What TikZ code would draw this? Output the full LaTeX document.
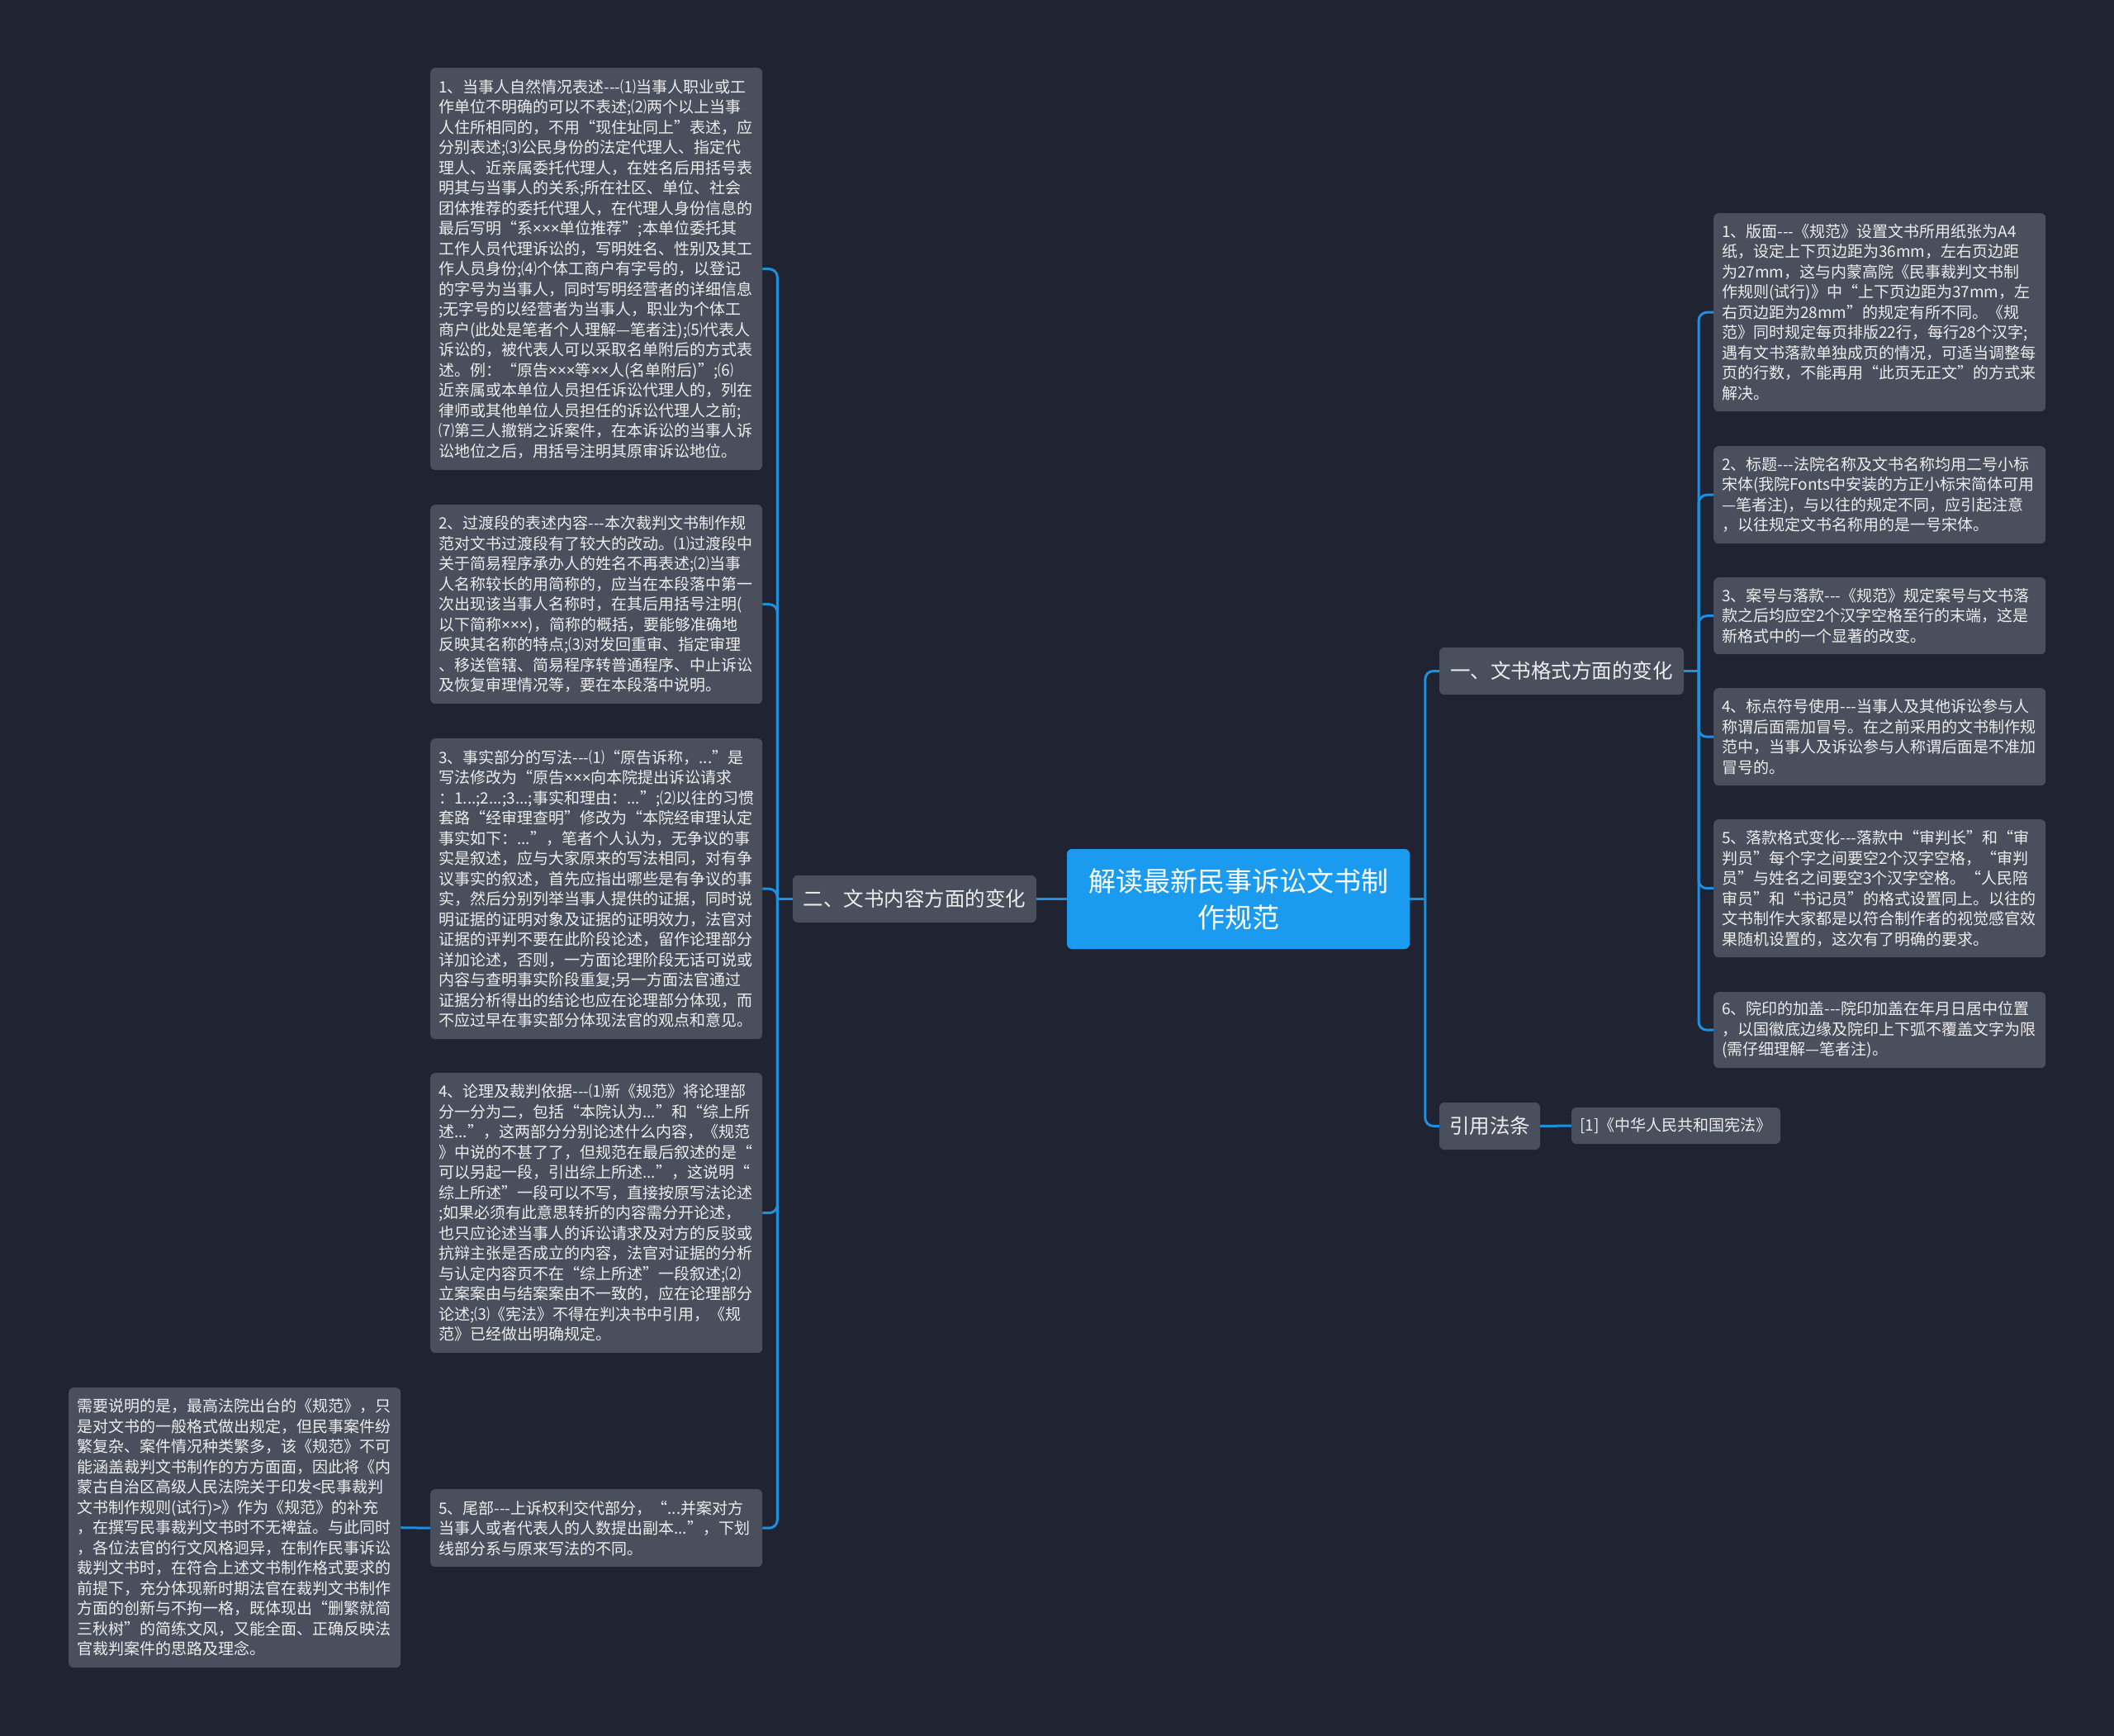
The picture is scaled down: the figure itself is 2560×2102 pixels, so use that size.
\documentclass[tikz,border=0pt]{standalone}
\usepackage{fontspec}
\setmainfont{Noto Sans CJK SC}
\newfontfamily\lat{Noto Sans}
\definecolor{bg}{HTML}{202331}
\definecolor{boxc}{HTML}{4A4F5E}
\definecolor{mainc}{HTML}{1A9BF0}
\definecolor{linec}{HTML}{1F8FE0}
\definecolor{txt}{HTML}{EDEDED}
\newcommand\tdash{-\kern0pt-\kern0pt-}
\newcommand\tm{{\lat ×}}
\begin{document}
\begin{tikzpicture}[x=1pt,y=-1pt,
 leaf/.style={fill=boxc, rounded corners=6pt, text=txt, font=\fontsize{19}{24.5}\selectfont, text width=382pt, align=left, inner xsep=10pt, inner ysep=0pt, anchor=north west},
 branch/.style={fill=boxc, rounded corners=6pt, text=txt, font=\fontsize{24.5}{30}\selectfont, inner sep=0pt},
 conn/.style={draw=linec, line width=3pt, rounded corners=10pt}]
\fill[bg] (0,0) rectangle (2560,2102);

% central
\node[fill=mainc, rounded corners=6pt, text=white, font=\fontsize{33}{44}\selectfont, minimum width=415pt, minimum height=121pt, align=center, inner sep=0pt] (C) at (1499.5,1088.5) {解读最新民事诉讼文书制\\作规范};

% branches
\node[branch, minimum width=295pt, minimum height=57pt] (B2) at (1107.5,1088.5) {二、文书内容方面的变化};
\node[branch, minimum width=296pt, minimum height=57pt] (B1) at (1891,812.5) {一、文书格式方面的变化};
\node[branch, minimum width=122pt, minimum height=57pt] (B3) at (1804,1363.5) {引用法条};
\node[fill=boxc, rounded corners=6pt, text=txt, font=\fontsize{19}{24.5}\selectfont, inner sep=0pt, minimum width=253pt, minimum height=44pt] (LAW) at (2029.5,1363) {[1]《中华人民共和国宪法》};

% left leaves
\node[leaf, minimum height=487pt] (L1) at (521,82) {1、当事人自然情况表述\tdash⑴当事人职业或工\\作单位不明确的可以不表述;⑵两个以上当事\\人住所相同的，不用“现住址同上”表述，应\\分别表述;⑶公民身份的法定代理人、指定代\\理人、近亲属委托代理人，在姓名后用括号表\\明其与当事人的关系;所在社区、单位、社会\\团体推荐的委托代理人，在代理人身份信息的\\最后写明“系\tm\tm\tm 单位推荐”;本单位委托其\\工作人员代理诉讼的，写明姓名、性别及其工\\作人员身份;⑷个体工商户有字号的，以登记\\的字号为当事人，同时写明经营者的详细信息\\;无字号的以经营者为当事人，职业为个体工\\商户(此处是笔者个人理解—笔者注);⑸代表人\\诉讼的，被代表人可以采取名单附后的方式表\\述。例：“原告\tm\tm\tm 等\tm\tm 人(名单附后)”;⑹\\近亲属或本单位人员担任诉讼代理人的，列在\\律师或其他单位人员担任的诉讼代理人之前;\\⑺第三人撤销之诉案件，在本诉讼的当事人诉\\讼地位之后，用括号注明其原审诉讼地位。};

\node[leaf, minimum height=241pt] (L2) at (521,611) {2、过渡段的表述内容\tdash 本次裁判文书制作规\\范对文书过渡段有了较大的改动。⑴过渡段中\\关于简易程序承办人的姓名不再表述;⑵当事\\人名称较长的用简称的，应当在本段落中第一\\次出现该当事人名称时，在其后用括号注明(\\以下简称\tm\tm\tm)，简称的概括，要能够准确地\\反映其名称的特点;⑶对发回重审、指定审理\\、移送管辖、简易程序转普通程序、中止诉讼\\及恢复审理情况等，要在本段落中说明。};

\node[leaf, minimum height=364pt] (L3) at (521,894) {3、事实部分的写法\tdash⑴“原告诉称，...”是\\写法修改为“原告\tm\tm\tm 向本院提出诉讼请求\\：1...;2...;3...;事实和理由：...”;⑵以往的习惯\\套路“经审理查明”修改为“本院经审理认定\\事实如下：...”，笔者个人认为，无争议的事\\实是叙述，应与大家原来的写法相同，对有争\\议事实的叙述，首先应指出哪些是有争议的事\\实，然后分别列举当事人提供的证据，同时说\\明证据的证明对象及证据的证明效力，法官对\\证据的评判不要在此阶段论述，留作论理部分\\详加论述，否则，一方面论理阶段无话可说或\\内容与查明事实阶段重复;另一方面法官通过\\证据分析得出的结论也应在论理部分体现，而\\不应过早在事实部分体现法官的观点和意见。};

\node[leaf, minimum height=339pt] (L4) at (521,1299) {4、论理及裁判依据\tdash⑴新《规范》将论理部\\分一分为二，包括“本院认为...”和“综上所\\述...”，这两部分分别论述什么内容，《规范\\》中说的不甚了了，但规范在最后叙述的是“\\可以另起一段，引出综上所述...”，这说明“\\综上所述”一段可以不写，直接按原写法论述\\;如果必须有此意思转折的内容需分开论述，\\也只应论述当事人的诉讼请求及对方的反驳或\\抗辩主张是否成立的内容，法官对证据的分析\\与认定内容页不在“综上所述”一段叙述;⑵\\立案案由与结案案由不一致的，应在论理部分\\论述;⑶《宪法》不得在判决书中引用，《规\\范》已经做出明确规定。};

\node[leaf, minimum height=94pt] (L5) at (521,1803) {5、尾部\tdash 上诉权利交代部分，“...并案对方\\当事人或者代表人的人数提出副本...”，下划\\线部分系与原来写法的不同。};

\node[leaf, minimum height=339pt] (N) at (83,1680) {需要说明的是，最高法院出台的《规范》，只\\是对文书的一般格式做出规定，但民事案件纷\\繁复杂、案件情况种类繁多，该《规范》不可\\能涵盖裁判文书制作的方方面面，因此将《内\\蒙古自治区高级人民法院关于印发<民事裁判\\文书制作规则(试行)>》作为《规范》的补充\\，在撰写民事裁判文书时不无裨益。与此同时\\，各位法官的行文风格迥异，在制作民事诉讼\\裁判文书时，在符合上述文书制作格式要求的\\前提下，充分体现新时期法官在裁判文书制作\\方面的创新与不拘一格，既体现出“删繁就简\\三秋树”的简练文风，又能全面、正确反映法\\官裁判案件的思路及理念。};

% right leaves
\node[leaf, minimum height=240pt] (R1) at (2075,258) {1、版面\tdash《规范》设置文书所用纸张为A4\\纸，设定上下页边距为36mm，左右页边距\\为27mm，这与内蒙高院《民事裁判文书制\\作规则(试行)》中“上下页边距为37mm，左\\右页边距为28mm”的规定有所不同。《规\\范》同时规定每页排版22行，每行28个汉字;\\遇有文书落款单独成页的情况，可适当调整每\\页的行数，不能再用“此页无正文”的方式来\\解决。};

\node[leaf, minimum height=118pt] (R2) at (2075,540) {2、标题\tdash 法院名称及文书名称均用二号小标\\宋体(我院Fonts中安装的方正小标宋简体可用\\—笔者注)，与以往的规定不同，应引起注意\\，以往规定文书名称用的是一号宋体。};

\node[leaf, minimum height=93pt] (R3) at (2075,699) {3、案号与落款\tdash《规范》规定案号与文书落\\款之后均应空2个汉字空格至行的末端，这是\\新格式中的一个显著的改变。};

\node[leaf, minimum height=118pt] (R4) at (2075,833) {4、标点符号使用\tdash 当事人及其他诉讼参与人\\称谓后面需加冒号。在之前采用的文书制作规\\范中，当事人及诉讼参与人称谓后面是不准加\\冒号的。};

\node[leaf, minimum height=167pt] (R5) at (2075,992) {5、落款格式变化\tdash 落款中“审判长”和“审\\判员”每个字之间要空2个汉字空格，“审判\\员”与姓名之间要空3个汉字空格。“人民陪\\审员”和“书记员”的格式设置同上。以往的\\文书制作大家都是以符合制作者的视觉感官效\\果随机设置的，这次有了明确的要求。};

\node[leaf, minimum height=92pt] (R6) at (2075,1201) {6、院印的加盖\tdash 院印加盖在年月日居中位置\\，以国徽底边缘及院印上下弧不覆盖文字为限\\(需仔细理解—笔者注)。};

% junction points
\coordinate (JL) at ([xshift=18pt]B2.west -| L1.east);
\coordinate (JR) at ([xshift=-17pt]B1.west |- C.east);
\coordinate (JR1) at ([xshift=-18pt]R1.west |- B1.east);

% connectors
\draw[conn] (C.west) -- (B2.east);
\draw[conn] (B2.west) -- (JL);
\foreach \n in {L1,L2,L3,L4,L5}
  \draw[conn] (JL) |- (\n.east);
\draw[conn] (L5.west) -- (N.east);
\draw[conn] (C.east) -- (JR);
\draw[conn] (JR) |- (B1.west);
\draw[conn] (JR) |- (B3.west);
\draw[conn] (B1.east) -- (JR1);
\foreach \n in {R1,R2,R3,R4,R5,R6}
  \draw[conn] (JR1) |- (\n.west);
\draw[conn] (B3.east) -- (LAW.west);
\end{tikzpicture}
\end{document}
